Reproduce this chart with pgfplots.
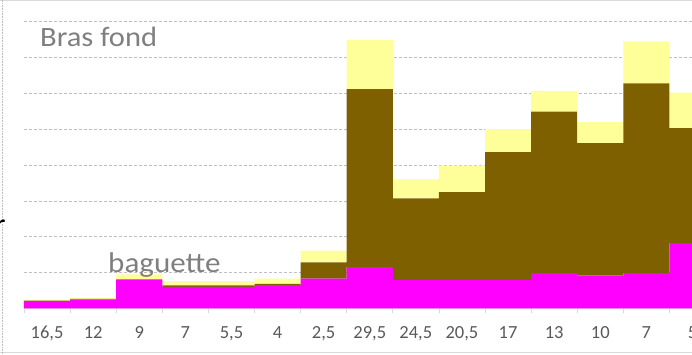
\documentclass[border=0pt]{standalone}
\usepackage{pgfplots}
\pgfplotsset{compat=1.18}
\usepackage{pgfplotstable}
\usepackage{fontspec}
\setmainfont{Carlito}
\newfontfamily\wide[FakeStretch=1.09]{Carlito}
\definecolor{mag}{HTML}{FF00FF}
\definecolor{brn}{HTML}{7F6000}
\definecolor{yel}{HTML}{FFFF99}
\definecolor{txtgray}{HTML}{7F7F7F}
\definecolor{lblgray}{HTML}{595959}
\definecolor{gridgray}{HTML}{BFBFBF}
\definecolor{axgray}{HTML}{D9D9D9}
\pgfplotstableread{
i m b y
0 0.20 0.015 0.025
1 0.25 0.015 0.02
2 0.79 0.02 0.14
3 0.60 0.04 0.12
4 0.60 0.04 0.12
5 0.65 0.03 0.15
6 0.83 0.45 0.33
7 1.15 4.97 1.37
8 0.79 2.28 0.53
9 0.79 2.45 0.74
10 0.79 3.57 0.64
11 0.98 4.51 0.58
12 0.91 3.70 0.59
13 0.98 5.30 1.17
14 1.82 3.21 0.99
}\data
\begin{document}
\begin{tikzpicture}
\useasboundingbox (0pt,0pt) rectangle (692pt,354pt);
\clip (0pt,0pt) rectangle (692pt,354pt);
\draw[axgray, line width=1pt] (0pt,353.5pt) -- (692pt,353.5pt);
\draw[axgray, line width=1pt] (0pt,1.3pt) -- (692pt,1.3pt);
\draw[gridgray, densely dotted, line width=0.6pt] (2.5pt,0pt) -- (2.5pt,354pt);
\begin{axis}[
  at={(24pt,45.7pt)}, anchor=south west, scale only axis,
  width=691.5pt, height=286.6pt,
  xmin=-0.5, xmax=14.5, ymin=0, ymax=8,
  ybar stacked, bar width=1,
  axis line style={draw=none},
  ytick={1,...,8}, yticklabels={}, ytick style={draw=none},
  ymajorgrids, grid style={gridgray, densely dashed, line width=0.6pt},
  xtick={0,...,14},
  xticklabels={{16,5},12,9,7,{5,5},4,{2,5},{29,5},{24,5},{20,5},17,13,10,7,5},
  xticklabel style={font=\fontsize{18.5}{18.5}\selectfont, text=lblgray, anchor=base, yshift=-30pt},
  xtick style={draw=none},
  extra x ticks={-0.5,0.5,...,13.5},
  extra x tick labels={},
  extra x tick style={grid=none, xtick style={draw=axgray, line width=0.8pt}, major tick length=5pt, tick align=outside},
  tick pos=bottom,
]
\addplot[fill=mag, draw=none] table[x=i,y=m]{\data};
\addplot[fill=brn, draw=none] table[x=i,y=b]{\data};
\addplot[fill=yel, draw=none] table[x=i,y=y]{\data};
\draw[axgray, line width=0.8pt] (axis cs:-0.5,0) -- (axis cs:14.5,0);
\end{axis}
\node[anchor=base west, inner sep=0, text=txtgray, font=\wide\fontsize{28}{28}\selectfont] at (40pt,307.3pt) {Bras fond};
\node[anchor=base west, inner sep=0, text=txtgray, font=\wide\fontsize{28.5}{28.5}\selectfont] at (108pt,81.7pt) {baguette};
\node[anchor=base west, inner sep=0, font=\fontsize{30}{30}\selectfont] at (-5pt,120pt) {r};
\end{tikzpicture}
\end{document}
